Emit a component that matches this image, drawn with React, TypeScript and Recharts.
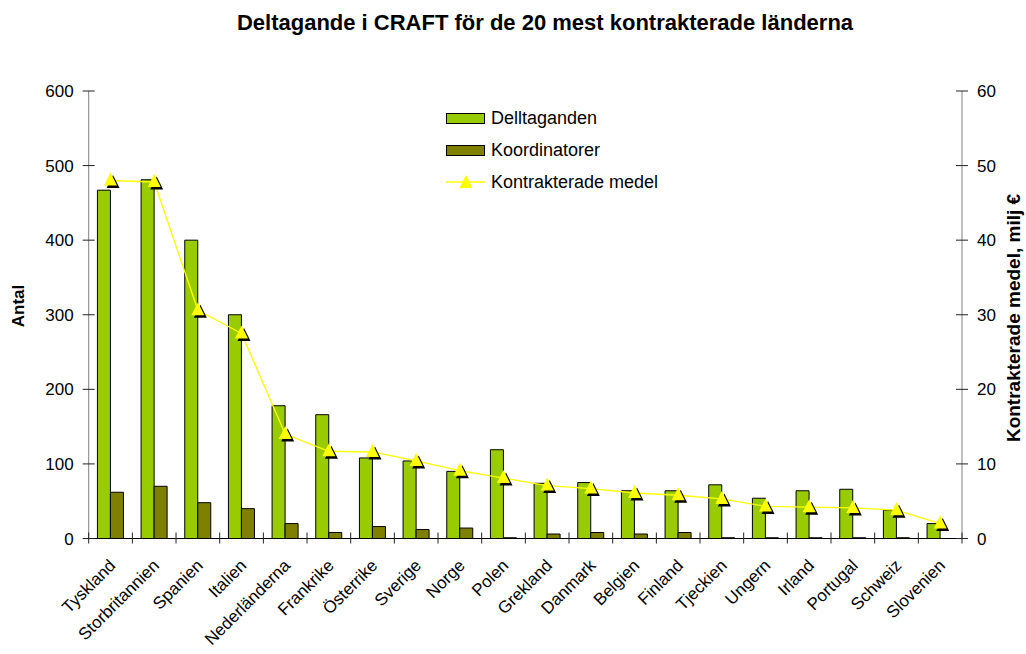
import { ComposedChart, Bar, Line, XAxis, YAxis } from 'recharts';

const countries = [
  'Tyskland', 'Storbritannien', 'Spanien', 'Italien', 'Nederländerna', 'Frankrike', 'Österrike',
  'Sverige', 'Norge', 'Polen', 'Grekland', 'Danmark', 'Belgien', 'Finland', 'Tjeckien',
  'Ungern', 'Irland', 'Portugal', 'Schweiz', 'Slovenien',
];
const deltaganden = [467, 481, 400, 300, 178, 166, 108, 104, 90, 119, 74, 75, 64, 64, 72, 54, 64, 66, 38, 20];
const koordinatorer = [62, 70, 48, 40, 20, 8, 16, 12, 14, 1, 6, 8, 6, 8, 1, 1, 1, 1, 1, 0];
const medel = [48, 47.8, 30.6, 27.5, 14, 11.7, 11.6, 10.4, 9.1, 8.1, 7.1, 6.7, 6.1, 5.8, 5.3, 4.3, 4.2, 4.1, 3.8, 2.0];
const leftTicks = [0, 100, 200, 300, 400, 500, 600];
const rightTicks = [0, 10, 20, 30, 40, 50, 60];

const data = countries.map((name, i) => ({
  name,
  deltaganden: deltaganden[i],
  koordinatorer: koordinatorer[i],
  medel: medel[i],
}));

const FONT = 'Arial, "Liberation Sans", sans-serif';
const GREEN = '#99CC00';
const OLIVE = '#808000';
const YELLOW = '#FFFF00';
const AXIS_GRAY = '#808080';

const tri = (x: number, y: number) => `M${x},${y - 8} L${x + 6.5},${y + 5} L${x - 6.5},${y + 5} Z`;

const TriangleDot = (props: any) => {
  const { cx, cy } = props;
  if (cx == null || cy == null) return null;
  return (
    <g>
      <path d={tri(cx + 2.5, cy + 2.5)} fill="#000" />
      <path d={tri(cx, cy)} fill={YELLOW} />
    </g>
  );
};

// x-axis: tick marks sit on category boundaries, labels turned 45°
const CategoryTick = (props: any) => {
  const { x, y, payload, index, width, visibleTicksCount } = props;
  const half = width / visibleTicksCount / 2;
  const last = index === visibleTicksCount - 1;
  const tx = x + 6;
  const ty = y + 28;
  return (
    <g>
      <line x1={x - half} x2={x - half} y1={y - 6} y2={y + 5} stroke="#222" />
      {last && <line x1={x + half} x2={x + half} y1={y - 6} y2={y + 5} stroke="#222" />}
      <text
        x={tx}
        y={ty}
        transform={`rotate(-45 ${tx} ${ty})`}
        textAnchor="end"
        fontSize={17}
        fontFamily={FONT}
        fill="#000"
      >
        {payload.value}
      </text>
    </g>
  );
};

const ValueTick = (props: any) => {
  const { x, y, payload, side } = props;
  const right = side === 'right';
  return (
    <g>
      <line x1={x - 6} x2={x + 6} y1={y} y2={y} stroke="#222" />
      <text
        x={right ? x + 15 : x - 15}
        y={y}
        dy="0.36em"
        textAnchor={right ? 'start' : 'end'}
        fontSize={17}
        fontFamily={FONT}
        fill="#000"
      >
        {payload.value}
      </text>
    </g>
  );
};

const LegendBox = () => (
  <div style={{ fontFamily: FONT, fontSize: 18, color: '#000', lineHeight: '32px' }}>
    <div style={{ display: 'flex', alignItems: 'center' }}>
      <span style={{ width: 37, height: 9, background: GREEN, border: '1px solid #000', marginRight: 6 }} />
      Delltaganden
    </div>
    <div style={{ display: 'flex', alignItems: 'center' }}>
      <span style={{ width: 37, height: 9, background: OLIVE, border: '1px solid #000', marginRight: 6 }} />
      Koordinatorer
    </div>
    <div style={{ display: 'flex', alignItems: 'center' }}>
      <svg width={39} height={18} style={{ marginRight: 6 }}>
        <line x1={0} x2={39} y1={9} y2={9} stroke={YELLOW} strokeWidth={1.3} />
        <path d={tri(20, 10)} fill={YELLOW} />
      </svg>
      Kontrakterade medel
    </div>
  </div>
);

export default function App() {
  return (
    <div style={{ position: 'absolute', left: 0, top: 0, width: 1026, height: 654, background: '#fff', fontFamily: FONT }}>
      <ComposedChart
        width={1026}
        height={654}
        data={data}
        margin={{ top: 91, right: 4, left: 28.7, bottom: 15.5 }}
        barGap={0}
        barCategoryGap="20%"
      >
        <XAxis
          dataKey="name"
          interval={0}
          height={100}
          tick={<CategoryTick />}
          tickLine={false}
          tickSize={0}
          tickMargin={0}
          axisLine={{ stroke: '#000' }}
        />
        <YAxis
          yAxisId="left"
          domain={[0, 600]}
          ticks={leftTicks}
          width={60}
          tick={<ValueTick side="left" />}
          tickLine={false}
          tickSize={0}
          tickMargin={0}
          axisLine={{ stroke: AXIS_GRAY }}
        />
        <YAxis
          yAxisId="right"
          orientation="right"
          domain={[0, 60]}
          ticks={rightTicks}
          width={60}
          tick={<ValueTick side="right" />}
          tickLine={false}
          tickSize={0}
          tickMargin={0}
          axisLine={{ stroke: AXIS_GRAY }}
        />
        <Bar yAxisId="left" dataKey="deltaganden" name="Delltaganden" fill={GREEN} stroke="#000" strokeWidth={1} isAnimationActive={false} />
        <Bar yAxisId="left" dataKey="koordinatorer" name="Koordinatorer" fill={OLIVE} stroke="#000" strokeWidth={1} isAnimationActive={false} />
        <Line
          yAxisId="right"
          dataKey="medel"
          name="Kontrakterade medel"
          stroke={YELLOW}
          strokeWidth={1.3}
          type="linear"
          dot={<TriangleDot />}
          activeDot={false}
          isAnimationActive={false}
        />
      </ComposedChart>
      <svg width={1026} height={654} style={{ position: 'absolute', left: 0, top: 0, pointerEvents: 'none' }}>
        <text x={545} y={30} textAnchor="middle" fontSize={22} fontWeight="bold" fontFamily={FONT} fill="#000">
          Deltagande i CRAFT för de 20 mest kontrakterade länderna
        </text>
        <text x={24} y={306} transform="rotate(-90 24 306)" textAnchor="middle" fontSize={17} fontWeight="bold" fontFamily={FONT} fill="#000">
          Antal
        </text>
        <text x={1020} y={318} transform="rotate(-90 1020 318)" textAnchor="middle" fontSize={19} fontWeight="bold" fontFamily={FONT} fill="#000">
          Kontrakterade medel, milj €
        </text>
      </svg>
      <div style={{ position: 'absolute', left: 446, top: 102, width: 280 }}>
        <LegendBox />
      </div>
    </div>
  );
}
